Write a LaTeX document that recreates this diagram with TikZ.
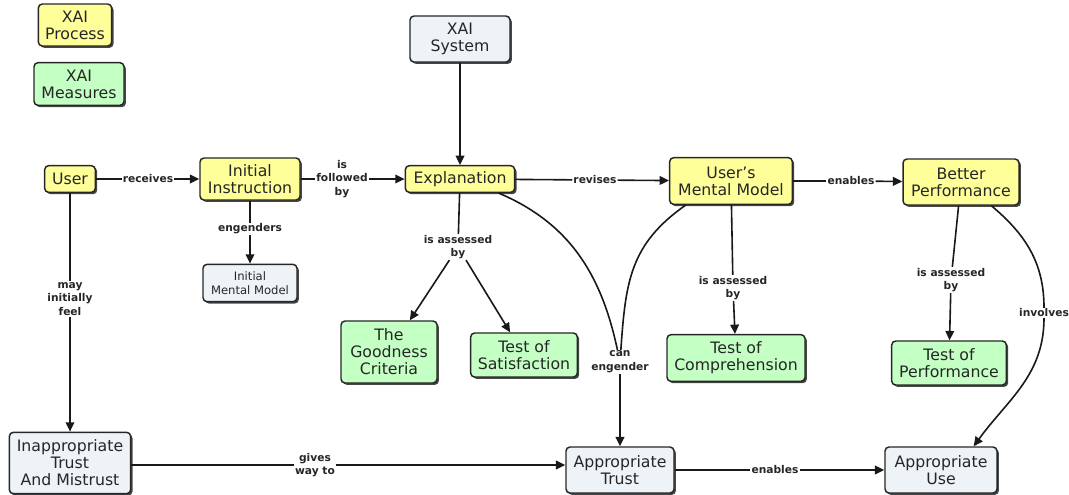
\documentclass[tikz,border=0pt]{standalone}
\usepackage{fontspec}
\setmainfont{DejaVu Sans}
\usetikzlibrary{arrows.meta,shadows}
\definecolor{procyellow}{HTML}{FFFF99}
\definecolor{measgreen}{HTML}{C4FFC4}
\definecolor{sysgrey}{HTML}{EDF3F6}
\begin{document}
\begin{tikzpicture}[x=0.75pt,y=-0.75pt,
    >={Triangle[width=6.5pt,length=7pt]},
    concept/.style={draw=black!85,line width=1.1pt,rounded corners=3pt,align=center,
      font=\fontsize{11.8}{12.8}\selectfont,text=black!85,inner xsep=3pt,inner ysep=2pt,
      drop shadow={shadow xshift=1.4pt,shadow yshift=-1.4pt,opacity=0.9,fill=black!80}},
    process/.style={concept,fill=procyellow},
    measure/.style={concept,fill=measgreen},
    other/.style={concept,fill=sysgrey},
    linkphrase/.style={fill=white,inner sep=0.6pt,align=center,
      font=\fontsize{8}{10.3}\selectfont\bfseries,text=black!85},
    link/.style={line width=1.2pt,draw=black!90}]
  \useasboundingbox (0,0) rectangle (1069,494);
  \draw
    (75,25) node[process,minimum width=55pt,minimum height=31.5pt] (proc) {XAI\\Process}
    (79,84) node[measure,minimum width=67.5pt,minimum height=32pt] (meas) {XAI\\Measures}
    (460,39) node[other,minimum width=75pt,minimum height=34.5pt] (sys) {XAI\\System}
    (70,179) node[process,minimum width=38pt,minimum height=20pt] (user) {User}
    (250,179) node[process,minimum width=75pt,minimum height=31.5pt] (instr) {Initial\\Instruction}
    (460,179) node[process,minimum width=82pt,minimum height=20pt] (expl) {Explanation}
    (731,181) node[process,minimum width=92pt,minimum height=35pt] (umm) {User's\\Mental Model}
    (961,182) node[process,minimum width=87pt,minimum height=34.5pt] (perf) {Better\\Performance}
    (250,283) node[other,minimum width=70.5pt,minimum height=28pt,font=\fontsize{8.7}{11}\selectfont] (imm) {Initial\\Mental Model}
    (389,352) node[measure,minimum width=72pt,minimum height=46.5pt] (good) {The\\Goodness\\Criteria}
    (524,355) node[measure,minimum width=80pt,minimum height=33pt] (sat) {Test of\\Satisfaction}
    (736,358) node[measure,minimum width=103.5pt,minimum height=35pt] (comp) {Test of\\Comprehension}
    (949,363) node[measure,minimum width=86pt,minimum height=33pt] (tperf) {Test of\\Performance}
    (70,463) node[other,minimum width=91pt,minimum height=46pt] (inap) {Inappropriate\\Trust\\And Mistrust}
    (620,470) node[other,minimum width=81pt,minimum height=34.5pt] (atrust) {Appropriate\\Trust}
    (941,470) node[other,minimum width=84pt,minimum height=34.5pt] (ause) {Appropriate\\Use};
  \draw
    (148,179) node[linkphrase] (lrec) {receives}
    (342,179) node[linkphrase] (lfol) {is\\followed\\by}
    (595,180) node[linkphrase] (lrev) {revises}
    (851,181) node[linkphrase] (lena) {enables}
    (250,229) node[linkphrase] (leng) {engenders}
    (70,299) node[linkphrase] (lmay) {may\\initially\\feel}
    (458,247) node[linkphrase] (lexpl) {is assessed\\by}
    (620,362) node[linkphrase] (lcan) {can\\engender}
    (733,288) node[linkphrase] (lcomp) {is assessed\\by}
    (951,280) node[linkphrase] (lperf) {is assessed\\by}
    (1044,313) node[linkphrase] (linv) {involves}
    (315,465) node[linkphrase] (lgiv) {gives\\way to}
    (775,470) node[linkphrase] (lena2) {enables};
  \begin{scope}[link]
    \draw[->] (sys) to (expl);
    \draw (user) to (lrec);
    \draw[->] (lrec) to (instr);
    \draw (instr) to (lfol);
    \draw[->] (lfol) to (expl);
    \draw (expl) to (lrev);
    \draw[->] (lrev) to (umm);
    \draw (umm) to (lena);
    \draw[->] (lena) to (perf);
    \draw (instr) to (leng);
    \draw[->] (leng) to (imm);
    \draw (user) to (lmay);
    \draw[->] (lmay) to (inap);
    \draw (expl) to (lexpl);
    \draw[->] (lexpl) to (good);
    \draw[->] (lexpl) to (sat);
    \draw (expl.-20) to[out=-23,in=102] (lcan);
    \draw (umm.-152) to[out=-145,in=86,looseness=1.1] (lcan);
    \draw[->] (lcan) to (atrust);
    \draw (umm) to (lcomp);
    \draw[->] (lcomp) to (comp);
    \draw (perf) to (lperf);
    \draw[->] (lperf) to (tperf);
    \draw (perf.-38) to[out=-40,in=90] (linv);
    \draw[->] (linv) to[out=-90,in=54] (ause.36);
    \draw (inap.east |- lgiv) to (lgiv);
    \draw[->] (lgiv) to (lgiv -| atrust.west);
    \draw (atrust) to (lena2);
    \draw[->] (lena2) to (ause);
  \end{scope}
\end{tikzpicture}
\end{document}
